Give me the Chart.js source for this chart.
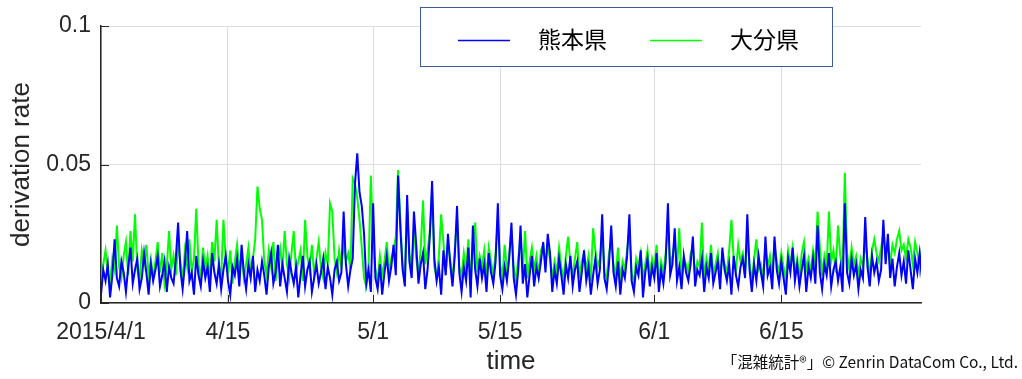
<!DOCTYPE html>
<html><head><meta charset="utf-8">
<script src="https://cdn.jsdelivr.net/npm/chart.js@4/dist/chart.umd.min.js"></script>
<style>html,body{margin:0;padding:0;background:#fff;}#wrap{position:relative;width:1022px;height:379px;}</style>
</head><body><div id="wrap"><canvas id="c" width="1022" height="379"></canvas></div>
<script>
// series names
const seriesNames = ['熊本県', '大分県'];
// sampling: 4 samples per day starting 2015/4/1 00:00
const samplesPerDay = 4;
const dayMax = 90.4;
// x tick positions (days since 2015/4/1) and labels
const tickDays = [0, 14, 30, 44, 61, 75];
const tickLabels = ['2015/4/1', '4/15', '5/1', '5/15', '6/1', '6/15'];
// y ticks
const yTicks = [0, 0.05, 0.1];
const yTickLabels = ['0', '0.05', '0.1'];
const xTitle = 'time';
const yTitle = 'derivation rate';
const credit = '「混雑統計®」© Zenrin DataCom Co., Ltd.';

// 熊本県 (blue)
const kumamoto = [
.003,.012,.008,.014,.002,.010,.023,.009,
.006,.015,.011,.004,.013,.020,.007,.012,
.016,.005,.009,.018,.011,.003,.014,.008,
.012,.017,.006,.010,.015,.004,.013,.009,
.007,.016,.029,.012,.005,.014,.026,.008,
.011,.003,.017,.010,.006,.015,.009,.013,
.004,.018,.011,.007,.014,.005,.012,.017,
.008,.003,.013,.010,.016,.006,.021,.011,
.005,.014,.009,.017,.004,.012,.008,.015,
.010,.003,.013,.018,.007,.011,.021,.006,
.014,.009,.004,.016,.011,.007,.013,.002,
.010,.017,.006,.012,.015,.004,.009,.014,
.007,.011,.016,.005,.013,.009,.003,.012,
.015,.008,.011,.033,.014,.006,.012,.016,
.043,.054,.040,.035,.025,.007,.012,.004,
.036,.009,.005,.014,.003,.011,.017,.008,
.013,.021,.010,.046,.027,.012,.006,.039,
.015,.009,.033,.021,.007,.014,.018,.005,
.012,.024,.044,.016,.008,.013,.003,.019,
.010,.025,.014,.006,.017,.035,.011,.004,
.013,.008,.020,.002,.028,.012,.006,.016,
.009,.014,.004,.018,.011,.007,.015,.036,
.010,.005,.013,.008,.016,.029,.009,.003,
.012,.028,.007,.014,.002,.010,.017,.006,
.013,.009,.015,.022,.011,.025,.018,.004,
.012,.007,.016,.010,.003,.014,.009,.017,
.006,.012,.015,.004,.011,.019,.008,.013,
.003,.010,.016,.007,.012,.032,.009,.005,
.014,.028,.011,.006,.015,.003,.012,.009,
.017,.032,.008,.004,.013,.010,.019,.002,
.011,.016,.006,.013,.009,.018,.004,.012,
.007,.015,.036,.010,.014,.027,.008,.013,
.005,.017,.011,.008,.014,.024,.006,.012,
.010,.016,.004,.013,.009,.018,.007,.011,
.015,.005,.020,.012,.008,.014,.003,.017,
.010,.006,.013,.016,.009,.032,.012,.004,
.014,.008,.017,.011,.006,.024,.010,.013,
.005,.024,.012,.007,.015,.009,.003,.016,
.011,.020,.008,.014,.006,.012,.017,.004,
.013,.009,.016,.007,.028,.011,.005,.014,
.010,.018,.006,.012,.015,.008,.013,.004,
.036,.011,.007,.016,.010,.014,.005,.012,
.009,.031,.013,.006,.017,.011,.015,.008,
.012,.030,.014,.025,.009,.016,.006,.013,
.018,.010,.015,.007,.019,.012,.005,.016,
.011,.018,.009,.014
];

// 大分県 (green)
const oita = [
.008,.014,.019,.011,.007,.016,.012,.028,
.013,.009,.017,.022,.010,.026,.015,.032,
.012,.008,.019,.014,.021,.010,.016,.009,
.015,.022,.011,.018,.007,.013,.026,.012,
.017,.010,.021,.015,.008,.019,.013,.023,
.011,.016,.034,.014,.009,.020,.012,.017,
.008,.022,.015,.030,.013,.010,.030,.016,
.011,.019,.007,.015,.021,.012,.017,.009,
.014,.020,.011,.016,.023,.042,.034,.030,
.015,.010,.019,.013,.022,.008,.016,.020,
.012,.026,.014,.009,.018,.026,.011,.015,
.019,.008,.030,.017,.012,.021,.010,.016,
.022,.013,.009,.018,.014,.036,.033,.016,
.011,.019,.013,.021,.015,.018,.012,.045,
.043,.038,.030,.020,.009,.006,.014,.046,
.021,.012,.008,.017,.010,.015,.022,.011,
.016,.019,.024,.048,.030,.014,.009,.035,
.018,.012,.028,.016,.010,.020,.037,.014,
.019,.026,.040,.013,.009,.017,.032,.022,
.011,.021,.016,.008,.019,.030,.013,.010,
.018,.012,.023,.007,.022,.029,.011,.017,
.013,.019,.009,.020,.015,.010,.018,.030,
.014,.009,.021,.012,.017,.026,.013,.008,
.016,.024,.011,.026,.009,.015,.020,.012,
.017,.010,.019,.021,.014,.020,.016,.009,
.015,.011,.020,.013,.008,.017,.024,.014,
.010,.016,.022,.009,.015,.018,.012,.017,
.008,.027,.019,.013,.016,.025,.011,.009,
.018,.022,.014,.010,.020,.008,.015,.012,
.019,.026,.011,.007,.016,.013,.018,.009,
.014,.019,.010,.016,.012,.021,.008,.015,
.011,.018,.028,.013,.017,.022,.012,.027,
.009,.016,.014,.011,.018,.020,.010,.015,
.013,.029,.008,.016,.012,.021,.010,.014,
.018,.009,.017,.014,.011,.019,.030,.016,
.012,.021,.015,.018,.010,.024,.014,.008,
.016,.023,.012,.014,.009,.020,.013,.017,
.010,.021,.015,.011,.018,.013,.008,.019,
.014,.020,.011,.016,.009,.018,.022,.012,
.016,.011,.019,.014,.033,.020,.010,.017,
.013,.033,.015,.019,.011,.028,.017,.012,
.047,.018,.012,.020,.014,.017,.010,.016,
.013,.022,.016,.010,.019,.023,.018,.015,
.020,.025,.017,.022,.014,.021,.018,.023,
.026,.019,.021,.016,.023,.020,.014,.022,
.018,.012,.020,.016
];

const toPoints = arr => arr.map((v, i) => ({x: i / samplesPerDay, y: v}));

const AXIS = '#262626';
const GRID = '#dedede';
const SANS = '"Liberation Sans", Arial, sans-serif';
const CJK = '"Noto Sans CJK JP", "Noto Sans", sans-serif';

const decor = {
  id: 'decor',
  afterDraw(chart) {
    const ctx = chart.ctx, xs = chart.scales.x, ys = chart.scales.y, ca = chart.chartArea;
    ctx.save();
    // inward tick marks
    ctx.strokeStyle = AXIS; ctx.lineWidth = 1;
    tickDays.forEach(d => {
      const px = Math.round(xs.getPixelForValue(d)) + 0.5;
      ctx.beginPath(); ctx.moveTo(px, ca.bottom); ctx.lineTo(px, ca.bottom - 8); ctx.stroke();
    });
    yTicks.forEach(v => {
      const py = Math.round(ys.getPixelForValue(v)) + 0.5;
      ctx.beginPath(); ctx.moveTo(ca.left, py); ctx.lineTo(ca.left + 8, py); ctx.stroke();
    });
    // legend
    ctx.fillStyle = '#fff';
    ctx.fillRect(420, 7, 412, 59);
    ctx.strokeStyle = '#3d5a99'; ctx.lineWidth = 1;
    ctx.strokeRect(420.5, 7.5, 412, 59);
    const items = [[seriesNames[0], '#0000ff', 458, 538], [seriesNames[1], '#00ff00', 650, 730]];
    ctx.font = '23px ' + CJK; ctx.textBaseline = 'middle'; ctx.textAlign = 'left';
    items.forEach(([name, col, lx, tx]) => {
      ctx.strokeStyle = col; ctx.lineWidth = 1.5;
      ctx.beginPath(); ctx.moveTo(lx, 40.5); ctx.lineTo(lx + 52, 40.5); ctx.stroke();
      ctx.fillStyle = '#000';
      ctx.fillText(name, tx, 39);
    });
    // credit
    ctx.font = '15.5px ' + CJK; ctx.textAlign = 'right'; ctx.textBaseline = 'alphabetic';
    ctx.fillStyle = '#111';
    ctx.fillText(credit, 1018, 368);
    ctx.restore();
  }
};

new Chart(document.getElementById('c'), {
  type: 'line',
  data: {
    datasets: [
      {label: seriesNames[0], data: toPoints(kumamoto), borderColor: '#0000ff', borderWidth: 2, pointRadius: 0, tension: 0},
      {label: seriesNames[1], data: toPoints(oita), borderColor: '#00ff00', borderWidth: 2, pointRadius: 0, tension: 0}
    ]
  },
  options: {
    responsive: false, animation: false, devicePixelRatio: 1,
    layout: {padding: {left: 0, right: 101, top: 26, bottom: 0}},
    plugins: {legend: {display: false}, tooltip: {enabled: false}},
    scales: {
      x: {
        type: 'linear', min: 0, max: dayMax,
        afterBuildTicks: s => { s.ticks = tickDays.map(v => ({value: v})); },
        afterFit: s => { s.height = 76; },
        ticks: {autoSkip: false, maxRotation: 0, padding: 16, color: AXIS,
          font: {family: SANS, size: 23},
          callback: (v, i) => tickLabels[i]},
        grid: {color: GRID, drawTicks: false, lineWidth: 1},
        border: {display: true, color: AXIS, width: 1.5},
        title: {display: true, text: xTitle, color: AXIS, font: {family: SANS, size: 26}, padding: {top: 0, bottom: 2}}
      },
      y: {
        min: 0, max: 0.1,
        afterBuildTicks: s => { s.ticks = yTicks.map(v => ({value: v})); },
        afterFit: s => { s.width = 101; },
        ticks: {padding: 10, color: AXIS, font: {family: SANS, size: 23},
          callback: (v, i) => yTickLabels[i]},
        grid: {color: GRID, drawTicks: false, lineWidth: 1},
        border: {display: true, color: AXIS, width: 1.5},
        title: {display: true, text: yTitle, color: AXIS, font: {family: SANS, size: 26}, padding: {top: 6, bottom: 0}}
      }
    }
  },
  plugins: [decor]
});
</script></body></html>
